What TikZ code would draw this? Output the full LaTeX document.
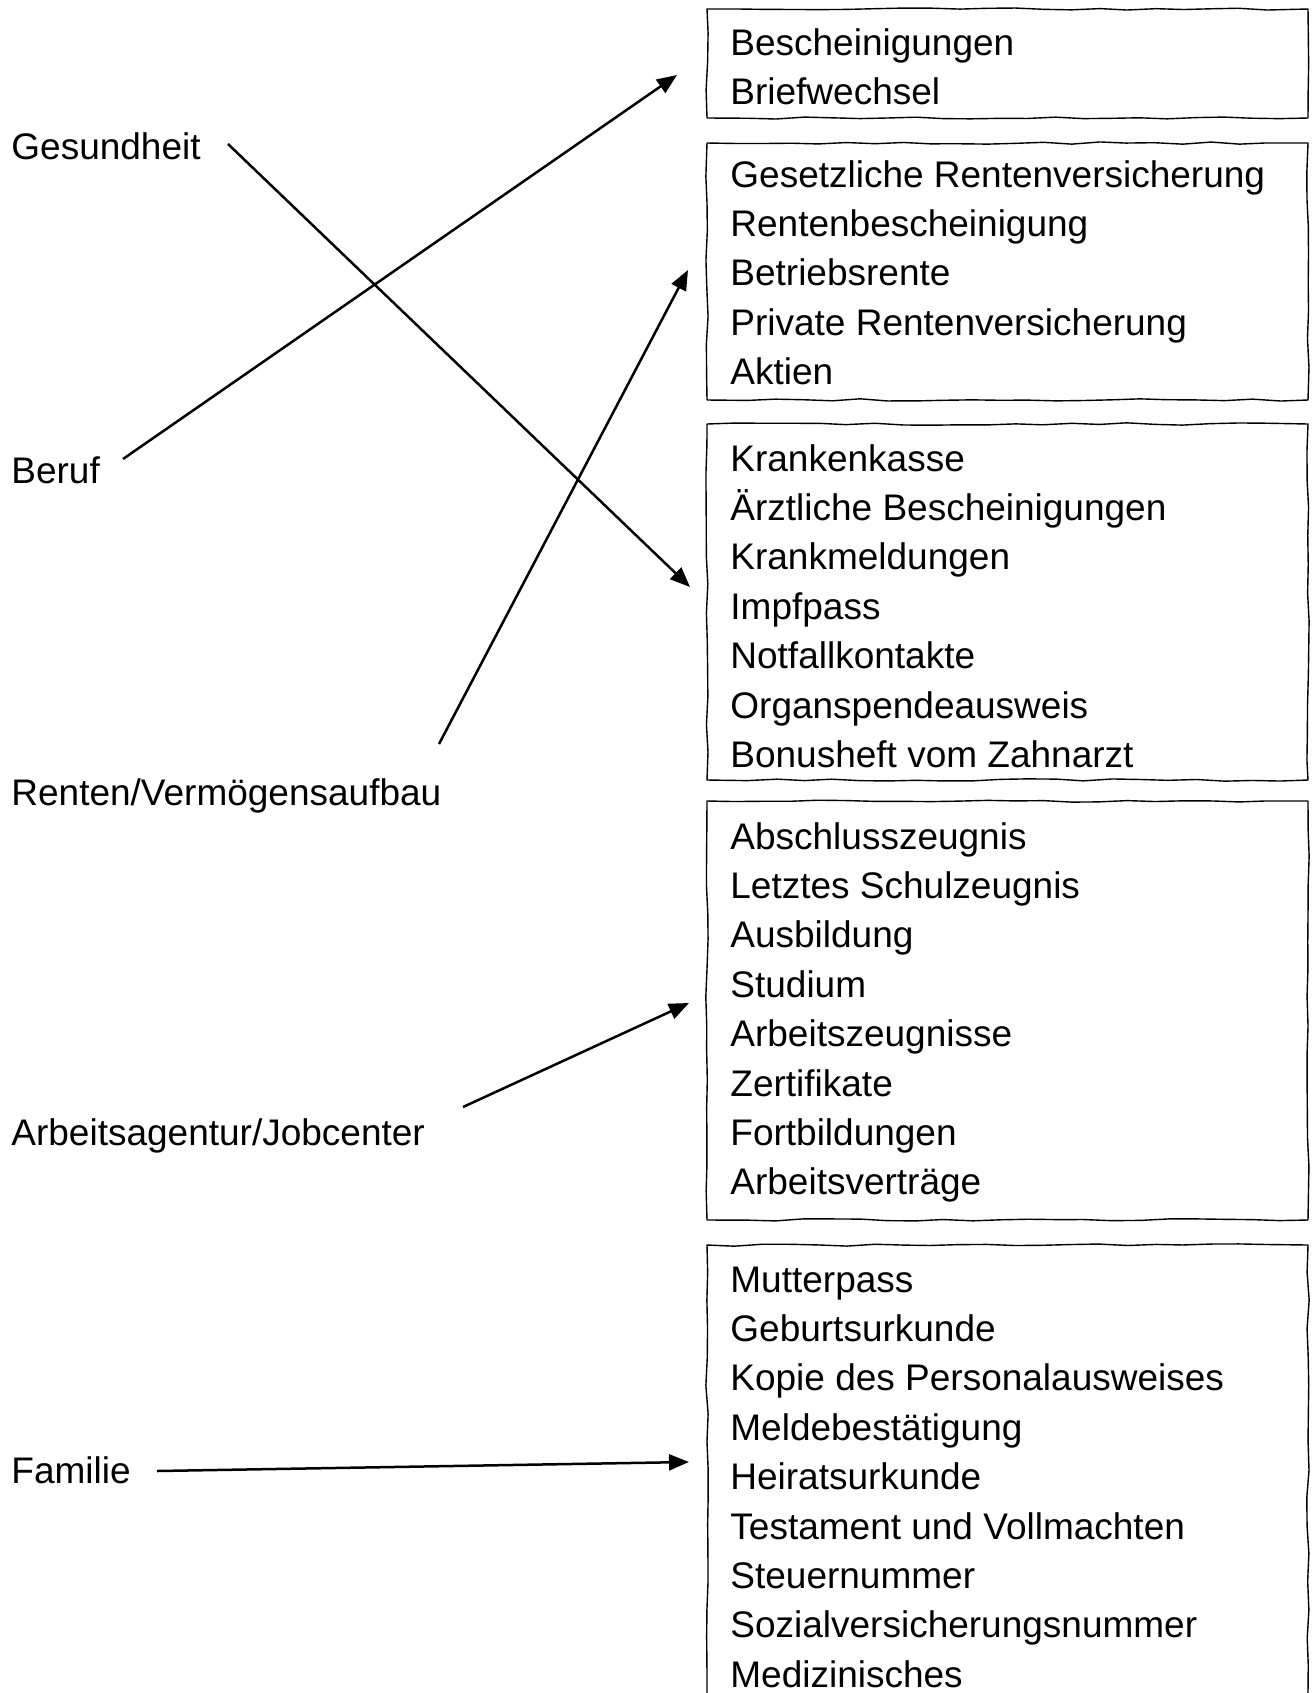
\documentclass[tikz,border=0pt]{standalone}
\usepackage{fontspec}
\setmainfont{Liberation Sans}
\usetikzlibrary{arrows.meta,decorations.pathmorphing}

\begin{document}
\begin{tikzpicture}[x=0.5pt,y=-0.5pt,
  topic/.style={anchor=base west,inner sep=0pt,font=\fontsize{18.5}{24.7}\selectfont},
  items/.style={topic,align=left},
  sketch/.style={line width=0.7pt,line join=round,decorate,decoration={random steps,segment length=14pt,amplitude=0.6pt}},
  link/.style={line width=1.25pt,-{Triangle[length=10pt,width=8pt]}}]
\useasboundingbox (0,0) rectangle (1313,1693);
\pgfmathsetseed{11}
\def\boxl{707}
\def\boxr{1308}
\def\textx{730}

\draw[sketch] (\boxl,9) -- (\boxr,9) -- (\boxr,118) -- (\boxl,118) -- cycle;
\draw[sketch] (\boxl,143) -- (\boxr,143) -- (\boxr,400) -- (\boxl,400) -- cycle;
\draw[sketch] (\boxl,424) -- (\boxr,424) -- (\boxr,780) -- (\boxl,780) -- cycle;
\draw[sketch] (\boxl,801) -- (\boxr,801) -- (\boxr,1220) -- (\boxl,1220) -- cycle;
\draw[sketch] (\boxl,1693) -- (\boxl,1245) -- (\boxr,1245) -- (\boxr,1693);

\node[items] (post) at (\textx,104.4) {Bescheinigungen\\Briefwechsel};
\node[items] (rente) at (\textx,384.6) {Gesetzliche Rentenversicherung\\Rentenbescheinigung\\Betriebsrente\\Private Rentenversicherung\\Aktien};
\node[items] (kasse) at (\textx,767.4) {Krankenkasse\\Ärztliche Bescheinigungen\\Krankmeldungen\\Impfpass\\Notfallkontakte\\Organspendeausweis\\Bonusheft vom Zahnarzt};
\node[items] (zeugnis) at (\textx,1194.8) {Abschlusszeugnis\\Letztes Schulzeugnis\\Ausbildung\\Studium\\Arbeitszeugnisse\\Zertifikate\\Fortbildungen\\Arbeitsverträge};
\node[items] (papiere) at (\textx,1687.2) {Mutterpass\\Geburtsurkunde\\Kopie des Personalausweises\\Meldebestätigung\\Heiratsurkunde\\Testament und Vollmachten\\Steuernummer\\Sozialversicherungsnummer\\Medizinisches};

\node[topic] (gesundheit) at (11,159) {Gesundheit};
\node[topic] (beruf) at (11,483) {Beruf};
\node[topic] (renten) at (11,805) {Renten/Vermögensaufbau};
\node[topic] (arbeit) at (11,1145) {Arbeitsagentur/Jobcenter};
\node[topic] (familie) at (11,1483) {Familie};

\coordinate (gesundheit-out) at (228,144);
\coordinate (beruf-out) at (123,459);
\coordinate (renten-out) at (439,744);
\coordinate (arbeit-out) at (463,1107);
\coordinate (familie-out) at (157,1471);
\coordinate (kasse-in) at (690,587);
\coordinate (post-in) at (677,75);
\coordinate (rente-in) at (688,270);
\coordinate (zeugnis-in) at (689,1003);
\coordinate (papiere-in) at (689,1462);

\draw[link] (gesundheit-out) -- (kasse-in);
\draw[link] (beruf-out) -- (post-in);
\draw[link] (renten-out) -- (rente-in);
\draw[link] (arbeit-out) -- (zeugnis-in);
\draw[link] (familie-out) -- (papiere-in);
\end{tikzpicture}
\end{document}
